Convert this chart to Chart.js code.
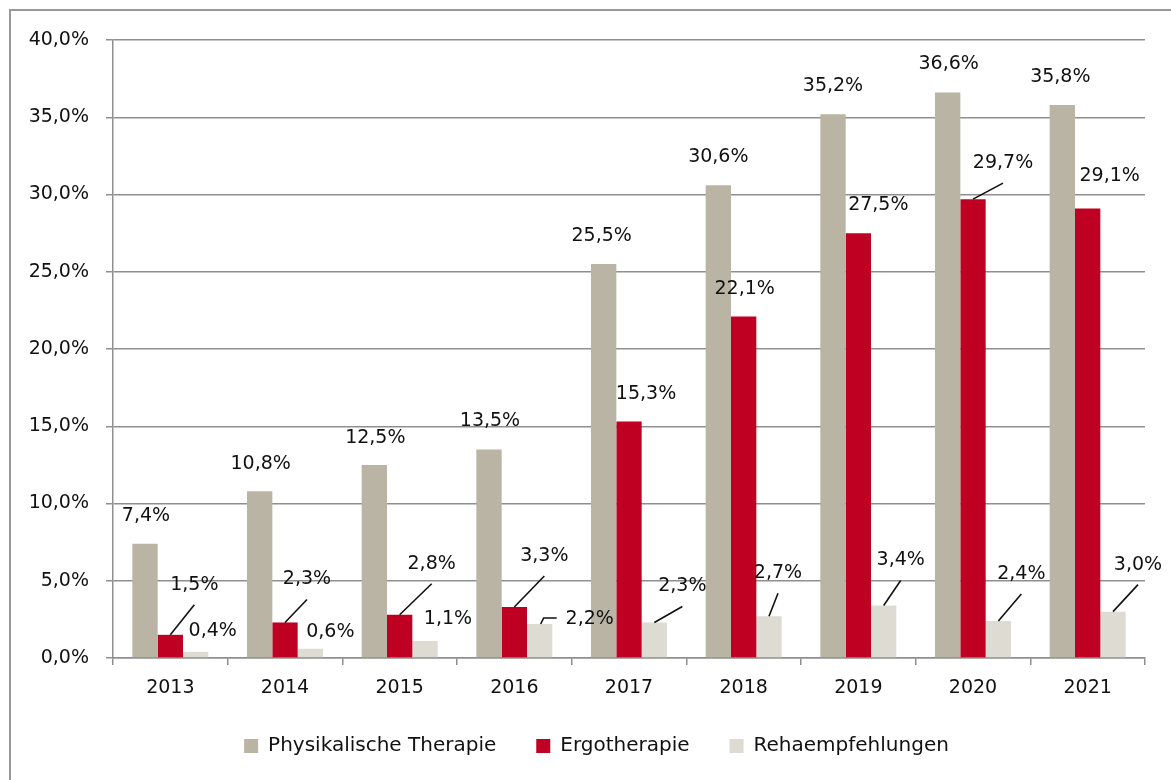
<!DOCTYPE html>
<html>
<head>
<meta charset="utf-8">
<script src="https://cdn.jsdelivr.net/npm/chart.js@4/dist/chart.umd.min.js"></script>
<style>
  html, body { margin: 0; padding: 0; background: #ffffff; }
  #wrap { width: 1171px; height: 780px; position: relative; }
</style>
</head>
<body>
<div id="wrap"><canvas id="chart"></canvas></div>
<script>
// values
const years = ['2013', '2014', '2015', '2016', '2017', '2018', '2019', '2020', '2021'];
const physio = [7.4, 10.8, 12.5, 13.5, 25.5, 30.6, 35.2, 36.6, 35.8];
const ergo = [1.5, 2.3, 2.8, 3.3, 15.3, 22.1, 27.5, 29.7, 29.1];
const reha = [0.4, 0.6, 1.1, 2.2, 2.3, 2.7, 3.4, 2.4, 3.0];
const seriesNames = ['Physikalische Therapie', 'Ergotherapie', 'Rehaempfehlungen'];

// label placement: [dx, dy, leader] relative to bar top centre (0 none, 1 straight, 2 elbow)
const physioLabelPos = [[1,-28,0],[1,-27,0],[1,-27,0],[1,-28,0],[-2,-28,0],[0,-28,0],[0,-28,0],[1,-28,0],[-2,-28,0]];
const ergoLabelPos = [[24,-50,1],[22,-43,1],[32,-51,1],[30,-51,1],[17,-28,0],[1,-27,0],[20,-28,0],[30,-36,1],[22,-32,0]];
const rehaLabelPos = [[17,-21,0],[20,-17,0],[23,-22,0],[50,-5,2],[28,-36,1],[9,-43,1],[17,-45,1],[23,-47,1],[25,-47,1]];

const C = {
    GREY: '#bab4a5',
    RED: '#c00022',
    LIGHT: '#dedbd3',
    GRID: '#8f8f8f',
    FONT: 'DejaVu Sans',
    LEGEND_SHIFT: 24
};

function fmt (v)
{
    return v.toFixed(1).replace('.', ',') + '%';
}

const labelPlugin = {
    id: 'barLabels',
    afterDatasetsDraw (chart)
    {
        const ctx = chart.ctx;
        const posList = [physioLabelPos, ergoLabelPos, rehaLabelPos];
        ctx.save();
        ctx.font = '19px "' + C.FONT + '"';
        ctx.textAlign = 'center';
        ctx.textBaseline = 'middle';
        ctx.fillStyle = '#111111';
        ctx.strokeStyle = '#111111';
        ctx.lineWidth = 1.6;
        chart.data.datasets.forEach((ds, d) => {
            let meta = chart.getDatasetMeta(d);
            meta.data.forEach((bar, i) => {
                let p = posList [d][i];
                let lx = bar.x + p [0],
                    ly = bar.y + p [1];
                if (p [2] === 1)
                {
                    ctx.beginPath();
                    ctx.moveTo(bar.x, bar.y);
                    ctx.lineTo(lx, ly + 20);
                    ctx.stroke();
                }
                else if (p [2] === 2)
                {
                    ctx.beginPath();
                    ctx.moveTo(bar.x + 1, bar.y);
                    ctx.lineTo(bar.x + 4, bar.y - 6);
                    ctx.lineTo(lx - 33, bar.y - 6);
                    ctx.stroke();
                }
                ctx.fillText(fmt(ds.data [i]), lx, ly);
            });
        });
        ctx.restore();
    }
};

const framePlugin = {
    id: 'frame',
    afterLayout (chart)
    {
        // the legend in the original sits a bit right of centre
        if (chart.legend)
        {
            chart.legend.left += C.LEGEND_SHIFT;
            chart.legend.right += C.LEGEND_SHIFT;
        }
    },
    beforeDraw (chart)
    {
        const ctx = chart.ctx;
        ctx.save();
        ctx.fillStyle = '#ffffff';
        ctx.fillRect(0, 0, chart.width, chart.height);
        ctx.strokeStyle = '#999999';
        ctx.lineWidth = 2;
        ctx.strokeRect(10, 10, chart.width + 20, chart.height + 20);
        ctx.restore();
    }
};

function makeChart ()
{
    let ctx = document.getElementById('chart');
    let desc = {
        type: 'bar',
        data:
        {
            labels: years,
            datasets:
            [
                { label: seriesNames [0], data: physio, backgroundColor: C.GREY },
                { label: seriesNames [1], data: ergo, backgroundColor: C.RED },
                { label: seriesNames [2], data: reha, backgroundColor: C.LIGHT }
            ]
        },
        options:
        {
            responsive: true,
            maintainAspectRatio: false,
            animation: false,
            datasets: { bar: { categoryPercentage: 0.663, barPercentage: 1.0 } },
            layout: { padding: { left: 0, top: 40, right: 26, bottom: 14 } },
            plugins:
            {
                tooltip: { enabled: false },
                legend:
                {
                    position: 'bottom',
                    labels:
                    {
                        boxWidth: 14,
                        boxHeight: 14,
                        padding: 40,
                        color: '#111111',
                        font: { family: C.FONT, size: 20 }
                    }
                }
            },
            scales:
            {
                x:
                {
                    grid: { drawOnChartArea: false, drawTicks: true, tickLength: 7, color: C.GRID, lineWidth: 1.5 },
                    border: { display: true, color: C.GRID, width: 1.5 },
                    ticks: { color: '#111111', padding: 12, font: { family: C.FONT, size: 19 } },
                    afterFit: (s) => { s.height = 38; }
                },
                y:
                {
                    min: 0,
                    max: 40,
                    grid: { color: C.GRID, lineWidth: 1.5, tickLength: 7 },
                    border: { display: true, color: C.GRID, width: 1.5 },
                    ticks: { stepSize: 5, color: '#111111', padding: 17, font: { family: C.FONT, size: 19 }, callback: (v) => fmt(v) },
                    afterFit: (s) => { s.width = 113; }
                }
            }
        },
        plugins: [framePlugin, labelPlugin]
    };
    return new Chart(ctx, desc);
}

makeChart();
</script>
</body>
</html>
